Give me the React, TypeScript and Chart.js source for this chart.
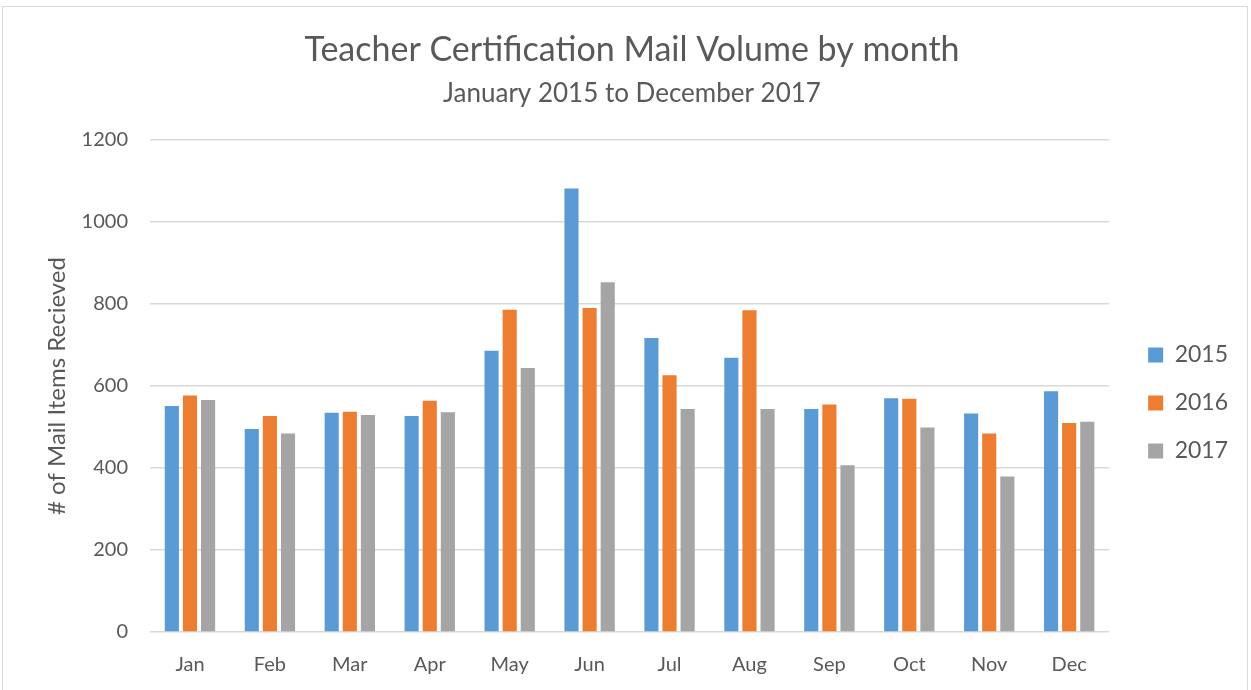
import React, { useEffect, useRef } from "react";
import { Chart, registerables } from "chart.js";

Chart.register(...registerables);

const months = ["Jan", "Feb", "Mar", "Apr", "May", "Jun", "Jul", "Aug", "Sep", "Oct", "Nov", "Dec"];
const series2015 = [551, 495, 535, 527, 686, 1082, 717, 669, 544, 570, 533, 587];
const series2016 = [577, 527, 537, 564, 786, 790, 626, 785, 555, 569, 484, 510];
const series2017 = [566, 484, 529, 536, 644, 853, 544, 544, 407, 499, 379, 513];
const seriesLabels = ["2015", "2016", "2017"];
const seriesColors = ["#5b9bd5", "#ed7d31", "#a5a5a5"];

const FONT = "Lato, 'Open Sans', sans-serif";
const TEXT = "#595959";

const legendOffset = {
  id: "legendOffset",
  afterLayout(chart: any) {
    const lg = chart.legend;
    if (!lg) return;
    const dx = 14;
    const dy = 43;
    lg.left += dx;
    lg.right += dx;
    lg.top += dy;
    lg.bottom += dy;
  },
};

export default function App() {
  const ref = useRef<HTMLCanvasElement | null>(null);

  useEffect(() => {
    if (!ref.current) return;
    const values = [series2015, series2016, series2017];
    const chart = new Chart(ref.current, {
      type: "bar",
      data: {
        labels: months,
        datasets: values.map((v, i) => ({
          label: seriesLabels[i],
          data: v,
          backgroundColor: seriesColors[i],
          borderWidth: 0,
          barPercentage: 0.78,
          categoryPercentage: 0.68,
        })),
      },
      plugins: [legendOffset],
      options: {
        animation: false,
        responsive: false,
        layout: { padding: { left: 40, right: 27, top: 30, bottom: 0 } },
        plugins: {
          title: {
            display: true,
            text: "Teacher Certification Mail Volume by month",
            color: TEXT,
            font: { family: FONT, size: 34, weight: "normal" },
            padding: { top: 0, bottom: 7 },
          },
          subtitle: {
            display: true,
            text: "January 2015 to December 2017",
            color: TEXT,
            font: { family: FONT, size: 26, weight: "normal" },
            padding: { top: 0, bottom: 31 },
          },
          legend: {
            position: "right",
            labels: {
              color: TEXT,
              font: { family: FONT, size: 23 },
              boxWidth: 15,
              boxHeight: 15,
              padding: 25,
            },
          },
          tooltip: { enabled: false },
        },
        scales: {
          x: {
            grid: { display: false, drawTicks: false },
            border: { display: false },
            ticks: { color: TEXT, font: { family: FONT, size: 20 }, padding: 21 },
            afterFit: (scale: any) => {
              scale.height = 58;
            },
          },
          y: {
            min: 0,
            max: 1200,
            ticks: {
              stepSize: 200,
              color: TEXT,
              font: { family: FONT, size: 20 },
              padding: 22,
              callback: (v: any) => String(v),
            },
            grid: { color: "#d9d9d9", lineWidth: 1.5, drawTicks: false },
            border: { display: false },
            title: {
              display: true,
              text: "# of Mail Items Recieved",
              color: TEXT,
              font: { family: FONT, size: 24 },
              padding: { top: 3, bottom: 8 },
            },
            afterFit: (scale: any) => {
              scale.width = 110;
            },
          },
        },
      },
    });
    return () => chart.destroy();
  }, []);

  return (
    <div style={{ position: "fixed", left: 0, top: 0, width: 1251, height: 690, background: "#fff" }}>
      <div
        style={{
          position: "absolute",
          left: 2,
          top: 6,
          width: 1246,
          height: 700,
          border: "1px solid #d9d9d9",
          boxSizing: "border-box",
        }}
      />
      <canvas ref={ref} width={1251} height={690} style={{ position: "absolute", left: 0, top: 0 }} />
    </div>
  );
}
